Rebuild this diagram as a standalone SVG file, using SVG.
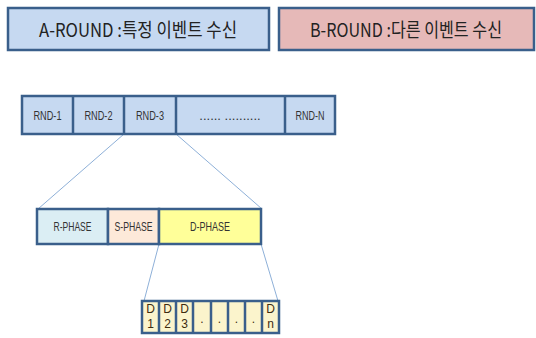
<svg xmlns="http://www.w3.org/2000/svg" width="536" height="338" viewBox="0 0 536 338">
<style>
.box{stroke:#3a5f8b;stroke-width:2.5}
.t{font-family:"Noto Sans CJK KR","Liberation Sans",sans-serif;text-anchor:middle;fill:#222}
.s{font-family:"Liberation Sans","Noto Sans CJK KR",sans-serif;text-anchor:middle;fill:#333;font-size:13px}
.d{font-family:"Liberation Sans",sans-serif;text-anchor:middle;fill:#3d2b10;font-size:12px}
.c{stroke:#8eb0d8;stroke-width:1;fill:none}
</style>
<rect width="536" height="338" fill="#fff"/>
<g id="a-round">
<rect class="box" x="8" y="8" width="261" height="42" fill="#c6d9f1"/>
<text class="t" x="138" y="37" font-size="19" textLength="198" lengthAdjust="spacingAndGlyphs">A-ROUND :특정 이벤트 수신</text>
</g>
<g id="b-round">
<rect class="box" x="279" y="8" width="255" height="42" fill="#e6b9b8"/>
<text class="t" x="406" y="37" font-size="19" textLength="192" lengthAdjust="spacingAndGlyphs">B-ROUND :다른 이벤트 수신</text>
</g>
<g id="connectors">
<line class="c" x1="124" y1="134" x2="38" y2="209"/>
<line class="c" x1="176" y1="134" x2="262" y2="209"/>
<line class="c" x1="159" y1="244" x2="144" y2="301"/>
<line class="c" x1="261" y1="244" x2="278" y2="301"/>
</g>
<g id="rnd-row">
<rect class="box" x="22" y="96" width="313" height="38" fill="#c6d9f1"/>
<line class="box" x1="73" y1="96" x2="73" y2="134"/>
<line class="box" x1="124" y1="96" x2="124" y2="134"/>
<line class="box" x1="176" y1="96" x2="176" y2="134"/>
<line class="box" x1="285" y1="96" x2="285" y2="134"/>
<text class="s" x="47.5" y="120" textLength="28" lengthAdjust="spacingAndGlyphs">RND-1</text>
<text class="s" x="98.5" y="120" textLength="28" lengthAdjust="spacingAndGlyphs">RND-2</text>
<text class="s" x="150" y="120" textLength="28" lengthAdjust="spacingAndGlyphs">RND-3</text>
<text class="s" x="230" y="120" font-size="10">......    ..........</text>
<text class="s" x="310" y="120" textLength="29" lengthAdjust="spacingAndGlyphs">RND-N</text>
</g>
<g id="phase-row">
<rect class="box" x="37" y="209" width="71" height="35" fill="#dbeef4"/>
<rect class="box" x="108" y="209" width="51" height="35" fill="#fde9d9"/>
<rect class="box" x="159" y="209" width="102" height="35" fill="#ffff99"/>
<text class="s" x="72.5" y="231" textLength="38" lengthAdjust="spacingAndGlyphs">R-PHASE</text>
<text class="s" x="133.5" y="231" textLength="38" lengthAdjust="spacingAndGlyphs">S-PHASE</text>
<text class="s" x="210" y="231" textLength="40" lengthAdjust="spacingAndGlyphs">D-PHASE</text>
</g>
<g id="d-row">
<rect class="box" x="142" y="301" width="137" height="32" fill="#fbf4cc"/>
<line class="box" x1="159" y1="301" x2="159" y2="333"/>
<line class="box" x1="176" y1="301" x2="176" y2="333"/>
<line class="box" x1="193" y1="301" x2="193" y2="333"/>
<line class="box" x1="211" y1="301" x2="211" y2="333"/>
<line class="box" x1="228" y1="301" x2="228" y2="333"/>
<line class="box" x1="245" y1="301" x2="245" y2="333"/>
<line class="box" x1="262" y1="301" x2="262" y2="333"/>
<text class="d" x="150.5" y="313">D</text><text class="d" x="150.5" y="328">1</text>
<text class="d" x="167.5" y="313">D</text><text class="d" x="167.5" y="328">2</text>
<text class="d" x="184.5" y="313">D</text><text class="d" x="184.5" y="328">3</text>
<text class="d" x="202" y="323">.</text>
<text class="d" x="219.5" y="323">.</text>
<text class="d" x="236.5" y="323">.</text>
<text class="d" x="253.5" y="323">.</text>
<text class="d" x="270.5" y="313">D</text><text class="d" x="270.5" y="328">n</text>
</g>
</svg>
